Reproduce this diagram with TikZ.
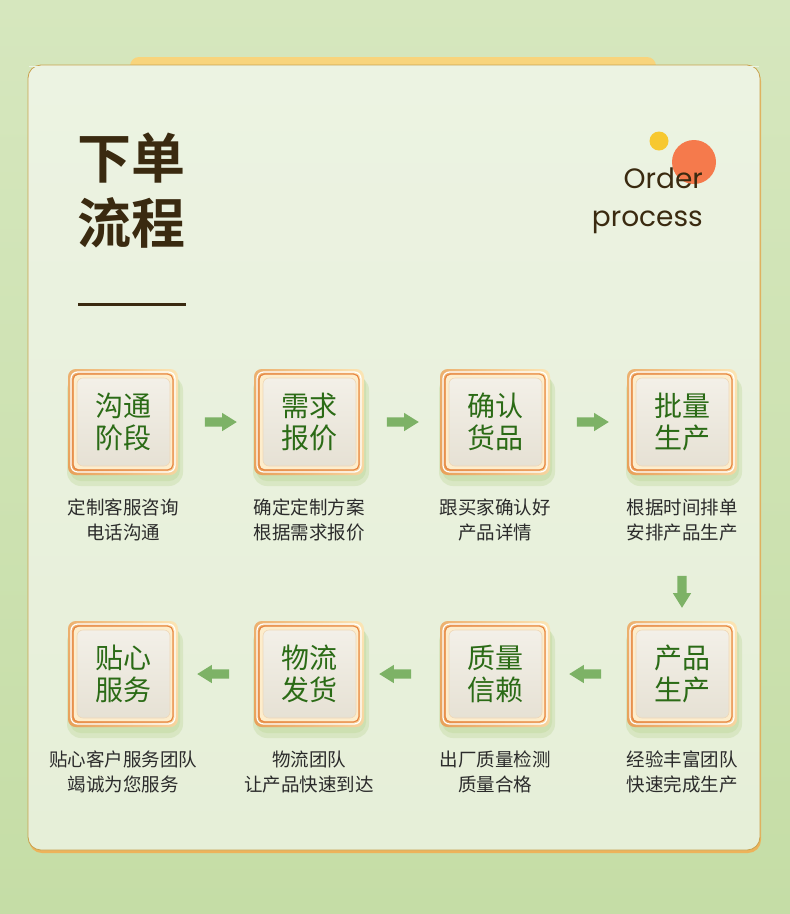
\documentclass[tikz,border=0pt]{standalone}
\usepackage{fontspec}
\setmainfont{Noto Sans CJK SC}
\newfontfamily\cjk{Noto Sans CJK SC}
\newfontfamily\cjkbold{Noto Sans CJK SC Bold}
\newfontfamily\latinf{Poppins}
\usetikzlibrary{arrows.meta,shapes.arrows}
\definecolor{bgtop}{HTML}{D6E7BE}
\definecolor{bgbot}{HTML}{C5DDA6}
\definecolor{panel}{HTML}{ECF3E2}
\definecolor{panelb}{HTML}{E6EFD8}
\definecolor{tabyel}{HTML}{F8D47C}
\definecolor{goldline}{HTML}{C9A24E}
\definecolor{orangeline}{HTML}{EDB35A}
\definecolor{titlec}{HTML}{3A2A10}
\definecolor{txtgreen}{HTML}{2B6B16}
\definecolor{captc}{HTML}{2B2B2B}
\definecolor{arrowg}{HTML}{7DB266}
\definecolor{frameo}{HTML}{E5954A}
\definecolor{framel}{HTML}{FCE6B6}
\definecolor{innerA}{HTML}{E6E1D4}
\definecolor{innerB}{HTML}{F3F0E8}
\definecolor{circy}{HTML}{F7C830}
\definecolor{circr}{HTML}{F57A4C}
\definecolor{shadowg}{HTML}{C6DCA6}
\tikzset{
  boxtext/.style={font=\cjk\fontsize{28}{32}\selectfont, text=txtgreen, align=center, inner sep=0pt},
  captext/.style={font=\cjk\fontsize{18.5}{25}\selectfont, text=captc, align=center, inner sep=0pt},
  flowarrow/.style={single arrow, fill=arrowg, draw=none, minimum height=32pt, single arrow head extend=4.5pt, single arrow head indent=0pt, inner sep=0pt, single arrow tip angle=64},
}
\newcommand{\arrowbody}{\makebox[9pt]{\rule{0pt}{9pt}}}
\newcommand{\stepcard}[4]{%
  % #1 name, #2 cx, #3 cy, #4 text
  \fill[shadowg, opacity=0.45, rounded corners=14pt] (#2-56,#3-46) rectangle (#2+60,#3+64);
  \fill[shadowg, opacity=0.6, rounded corners=11pt] (#2-53,#3-48) rectangle (#2+57,#3+59);
  \shade[left color=frameo, right color=framel, rounded corners=8pt] (#2-55,#3-53) rectangle (#2+55,#3+53);
  \shade[top color=framel, bottom color=framel!40!frameo, opacity=0.35, rounded corners=8pt] (#2-55,#3-53) rectangle (#2+55,#3+53);
  \draw[white, line width=1.2pt, rounded corners=6.5pt] (#2-52,#3-50) rectangle (#2+52,#3+50);
  \draw[frameo!90!red, line width=1.2pt, rounded corners=5.5pt] (#2-50,#3-48) rectangle (#2+50,#3+48);
  \fill[framel!70!white, rounded corners=5pt] (#2-49.2,#3-47.2) rectangle (#2+49.2,#3+47.2);
  \shade[top color=innerB, bottom color=innerA, draw=framel!60!brown!60!white, line width=0.6pt, rounded corners=6pt] (#2-46,#3-44) rectangle (#2+47,#3+44);
  \node[boxtext] (#1) at (#2,#3) {#4};
}
\begin{document}
\begin{tikzpicture}[x=1pt,y=-1pt]
\useasboundingbox (0,0) rectangle (790,914);
% background
\shade[top color=bgtop, bottom color=bgbot] (0,0) rectangle (790,914);
% tab
\fill[tabyel, rounded corners=9pt] (130,57) rectangle (656,80);
% panel shadow / bottom line
\fill[orangeline, rounded corners=13pt] (29,68) rectangle (761,853);
% panel
\shade[top color=panel, bottom color=panelb, draw=goldline, line width=0.8pt, rounded corners=13pt] (28,65) rectangle (760,850);
\fill[panel] (29,66.2) rectangle (759,67);
% title
\node[font=\cjkbold\fontsize{54}{65}\selectfont, text=titlec, align=left, inner sep=0pt, anchor=north west] (title) at (77,133) {下单\\流程};
\coordinate (ulA) at (78,304);
\coordinate (ulB) at (186,304);
\draw[titlec, line width=3pt] (ulA) -- (ulB);
% circles
\fill[circy] (659,141) circle (9.5);
\fill[circr] (694,162) circle (22);
\node[font=\latinf\fontsize{28}{38}\selectfont, text=titlec, align=right, inner sep=0pt, anchor=north east] (eng) at (703,168) {Order\\process};
% cards row 1
\stepcard{c1}{123}{422}{沟通\\阶段}
\stepcard{c2}{309}{422}{需求\\报价}
\stepcard{c3}{495}{422}{确认\\货品}
\stepcard{c4}{682}{422}{批量\\生产}
% cards row 2
\stepcard{c5}{682}{674}{产品\\生产}
\stepcard{c6}{495}{674}{质量\\信赖}
\stepcard{c7}{309}{674}{物流\\发货}
\stepcard{c8}{123}{674}{贴心\\服务}
% captions
\node[captext] (t1) at (123,520) {定制客服咨询\\电话沟通};
\node[captext] (t2) at (309,520) {确定定制方案\\根据需求报价};
\node[captext] (t3) at (495,520) {跟买家确认好\\产品详情};
\node[captext] (t4) at (682,520) {根据时间排单\\安排产品生产};
\node[captext] (t5) at (682,772) {经验丰富团队\\快速完成生产};
\node[captext] (t6) at (495,772) {出厂质量检测\\质量合格};
\node[captext] (t7) at (309,772) {物流团队\\让产品快速到达};
\node[captext] (t8) at (123,772) {贴心客户服务团队\\竭诚为您服务};
% arrows
\node[flowarrow] (a12) at (217,422) {\arrowbody};
\node[flowarrow] (a23) at (399,422) {\arrowbody};
\node[flowarrow] (a34) at (589,422) {\arrowbody};
\node[flowarrow, shape border rotate=270] (a45) at (682,588) {\arrowbody};
\node[flowarrow, shape border rotate=180] (a56) at (589,674) {\arrowbody};
\node[flowarrow, shape border rotate=180] (a67) at (399,674) {\arrowbody};
\node[flowarrow, shape border rotate=180] (a78) at (217,674) {\arrowbody};
\end{tikzpicture}
\end{document}
